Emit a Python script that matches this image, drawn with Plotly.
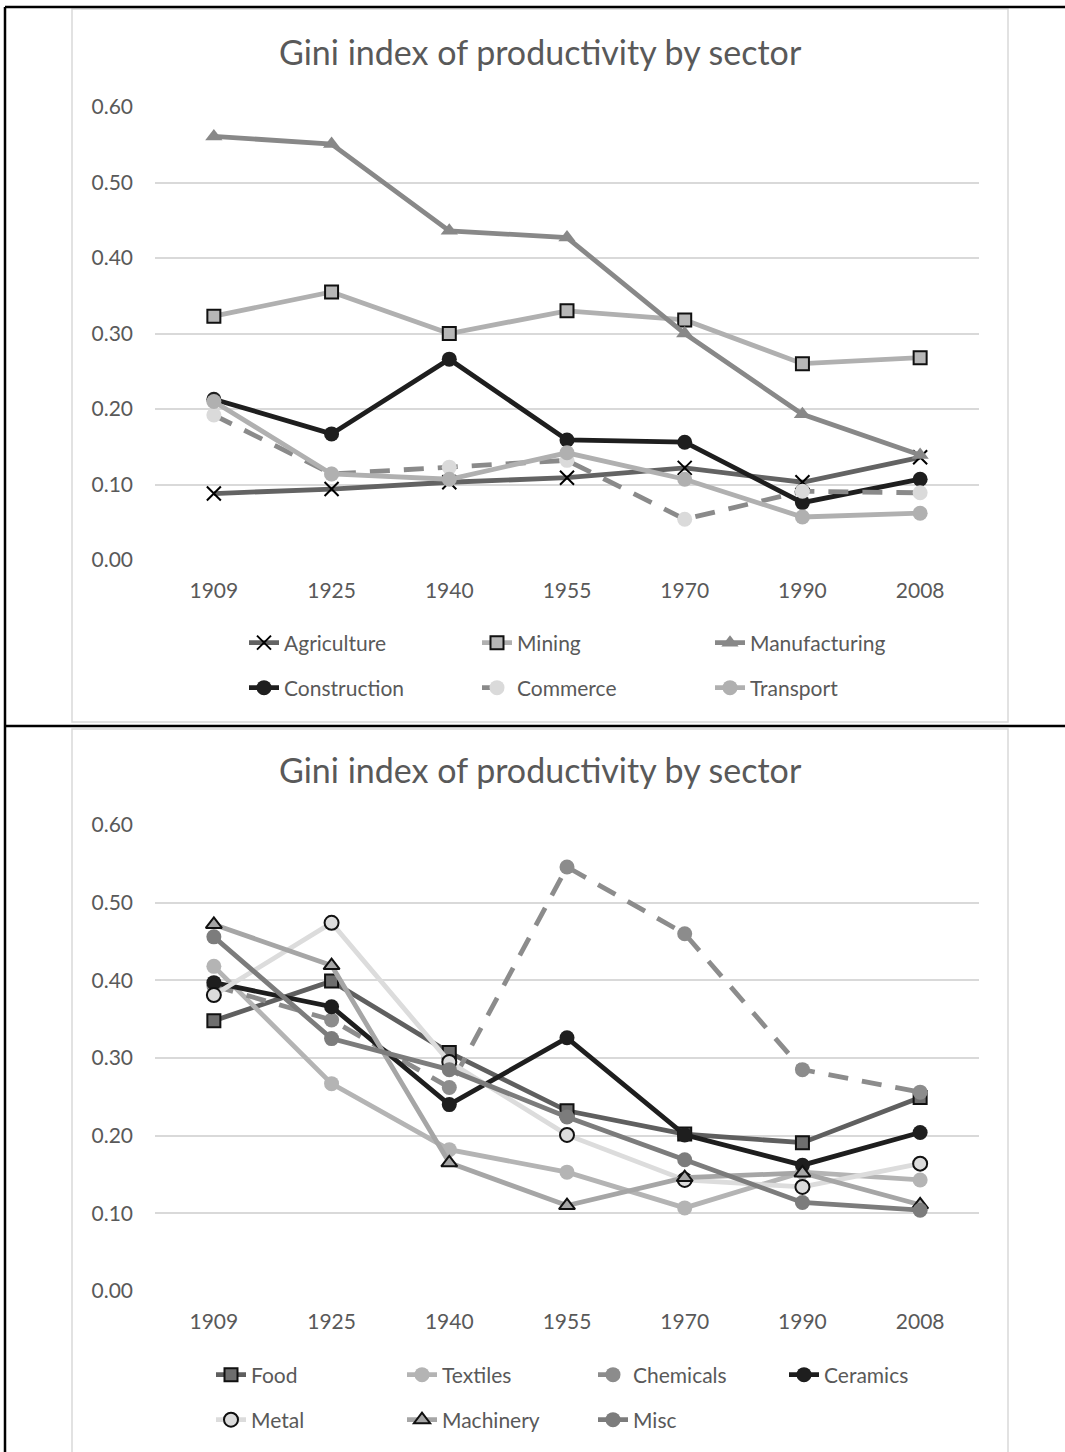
import plotly.graph_objects as go

W, H = 1065, 1452

years = ["1909", "1925", "1940", "1955", "1970", "1990", "2008"]

# top chart
agriculture = [0.088, 0.094, 0.103, 0.109, 0.122, 0.103, 0.136]
mining = [0.323, 0.355, 0.300, 0.330, 0.318, 0.260, 0.268]
manufacturing = [0.561, 0.551, 0.436, 0.427, 0.300, 0.193, 0.139]
construction = [0.213, 0.167, 0.266, 0.159, 0.156, 0.076, 0.107]
commerce = [0.192, 0.114, 0.123, 0.132, 0.054, 0.091, 0.089]
transport = [0.210, 0.114, 0.107, 0.142, 0.107, 0.057, 0.062]

# bottom chart
food = [0.348, 0.399, 0.307, 0.232, 0.202, 0.191, 0.249]
textiles = [0.418, 0.267, 0.182, 0.153, 0.107, 0.153, 0.143]
chemicals = [0.393, 0.349, 0.262, 0.546, 0.460, 0.285, 0.256]
ceramics = [0.397, 0.366, 0.240, 0.326, 0.201, 0.162, 0.204]
metal = [0.381, 0.474, 0.295, 0.201, 0.143, 0.134, 0.164]
machinery = [0.472, 0.419, 0.165, 0.110, 0.146, 0.152, 0.111]
misc = [0.456, 0.325, 0.285, 0.224, 0.169, 0.114, 0.104]

y_ticks = [0.0, 0.1, 0.2, 0.3, 0.4, 0.5, 0.6]

FONT = "Lato"
TXT = "#595959"
LW = 4.8


def px_x(v):
    return v / W


def px_y(v):
    return 1 - v / H


def series(name, vals, color, symbol, mfill=None, mline=None, dash="solid",
           size=13, axis="1", legend="legend"):
    marker = dict(symbol=symbol, size=size, color=mfill or color)
    if mline:
        marker["line"] = dict(color=mline, width=2)
    else:
        marker["line"] = dict(width=0)
    if symbol == "x-thin":
        marker["line"] = dict(color="#000000", width=2)
    return go.Scatter(
        x=years, y=vals, name=name, mode="lines+markers",
        line=dict(color=color, width=LW, dash=dash),
        marker=marker,
        xaxis="x" if axis == "1" else "x2",
        yaxis="y" if axis == "1" else "y2",
        legend=legend,
    )


fig = go.Figure()

# top
fig.add_trace(series("Agriculture", agriculture, "#636363", "x-thin", size=14, legend="legend"))
fig.add_trace(series("Mining", mining, "#b0b0b0", "square", mfill="#b7b7b7", mline="#111111", legend="legend"))
fig.add_trace(series("Manufacturing", manufacturing, "#888888", "triangle-up", size=15, legend="legend"))
fig.add_trace(series("Construction", construction, "#1e1e1e", "circle", size=15, legend="legend2"))
fig.add_trace(series("Commerce", commerce, "#8a8a8a", "circle", mfill="#dadada", dash="20px,14px", size=15, legend="legend2"))
fig.add_trace(series("Transport", transport, "#b0b0b0", "circle", size=15, legend="legend2"))

# bottom
fig.add_trace(series("Food", food, "#5f5f5f", "square", mfill="#6e6e6e", mline="#111111", axis="2", legend="legend3"))
fig.add_trace(series("Textiles", textiles, "#b4b4b4", "circle", size=15, axis="2", legend="legend3"))
fig.add_trace(series("Chemicals", chemicals, "#8c8c8c", "circle", dash="20px,14px", size=15, axis="2", legend="legend3"))
fig.add_trace(series("Ceramics", ceramics, "#1e1e1e", "circle", size=15, axis="2", legend="legend3"))
fig.add_trace(series("Metal", metal, "#dcdcdc", "circle", mline="#111111", size=14, axis="2", legend="legend4"))
fig.add_trace(series("Machinery", machinery, "#a6a6a6", "triangle-up", mline="#111111", size=14, axis="2", legend="legend4"))
fig.add_trace(series("Misc", misc, "#7c7c7c", "circle", size=15, axis="2", legend="legend4"))

xaxis_style = dict(
    type="category", range=[-0.5, 6.5], showgrid=False, zeroline=False,
    showline=False, ticks="", ticklabelstandoff=16,
    tickfont=dict(family=FONT, size=21, color=TXT),
    domain=[px_x(155), px_x(979)],
)
yaxis_style = dict(
    range=[0, 0.6], tickvals=y_ticks, tickformat=".2f",
    showgrid=True, gridcolor="#d9d9d9", gridwidth=1.5,
    zeroline=False, showline=False, ticks="", ticklabelstandoff=21,
    tickfont=dict(family=FONT, size=21, color=TXT),
)

legend_base = dict(
    orientation="h", xanchor="left", yanchor="middle",
    font=dict(family=FONT, size=21, color=TXT),
    bgcolor="rgba(0,0,0,0)", entrywidthmode="pixels",
    itemclick=False, itemdoubleclick=False,
)

fig.update_layout(
    width=W, height=H,
    margin=dict(l=0, r=0, t=0, b=0, autoexpand=False),
    paper_bgcolor="white", plot_bgcolor="white",
    xaxis=dict(xaxis_style, anchor="y"),
    yaxis=dict(yaxis_style, anchor="x", domain=[px_y(560), px_y(107)]),
    xaxis2=dict(xaxis_style, anchor="y2"),
    yaxis2=dict(yaxis_style, anchor="x2", domain=[px_y(1291), px_y(825)]),
    legend=dict(legend_base, x=px_x(244), y=px_y(643), entrywidth=188),
    legend2=dict(legend_base, x=px_x(244), y=px_y(688), entrywidth=188),
    legend3=dict(legend_base, x=px_x(211), y=px_y(1375), entrywidth=146),
    legend4=dict(legend_base, x=px_x(211), y=px_y(1420), entrywidth=146),
    showlegend=True,
)

title_text = "Gini index of productivity by sector"
for yc in (51, 769):
    fig.add_annotation(
        text=title_text, xref="paper", yref="paper",
        x=px_x(540), y=px_y(yc), xanchor="center", yanchor="middle",
        showarrow=False, font=dict(family=FONT, size=34, color=TXT),
    )

# chart frames (light gray) and table borders (black)
frame = dict(type="rect", xref="paper", yref="paper",
             line=dict(color="#d9d9d9", width=1.5), fillcolor="rgba(0,0,0,0)")
fig.add_shape(frame, x0=px_x(72), x1=px_x(1008), y0=px_y(722), y1=px_y(9))
fig.add_shape(frame, x0=px_x(72), x1=px_x(1008), y0=px_y(1460), y1=px_y(729))

border = dict(type="line", xref="paper", yref="paper", line=dict(color="#000000", width=2.5))
fig.add_shape(border, x0=px_x(5), x1=1, y0=px_y(7), y1=px_y(7))
fig.add_shape(border, x0=px_x(5), x1=1, y0=px_y(726), y1=px_y(726))
fig.add_shape(border, x0=px_x(5), x1=px_x(5), y0=0, y1=px_y(7))

fig.write_html("out.html", config={"displayModeBar": False},
               post_script="document.body.style.margin = '0';")
